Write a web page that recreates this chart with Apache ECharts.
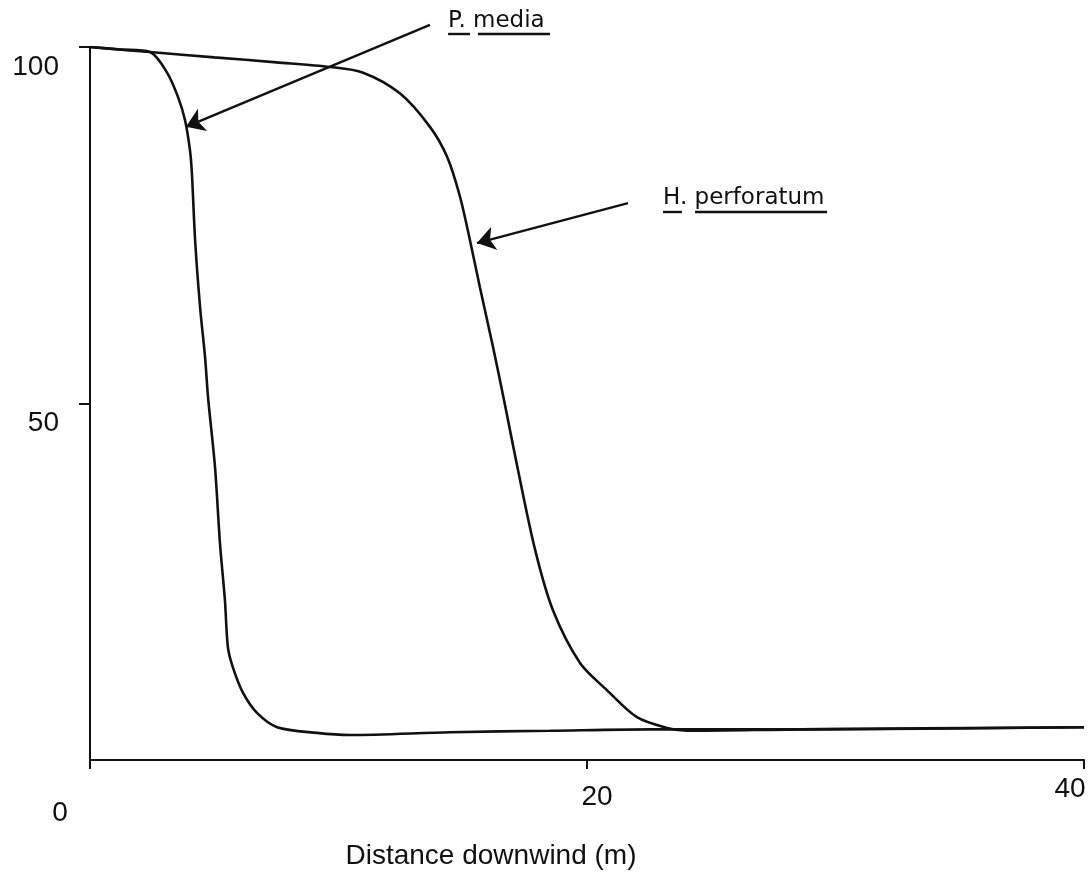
<!DOCTYPE html>
<html>
<head>
<meta charset="utf-8">
<title>Distance downwind</title>
<script src="https://cdn.jsdelivr.net/npm/echarts@6/dist/echarts.min.js"></script>
<style>
  html, body { margin: 0; padding: 0; background: #fff; }
  #chart { width: 1090px; height: 889px; }
</style>
</head>
<body>
<div id="chart"></div>
<script>
// distances (m) and values
var perforatumX = [0, 2.41, 5.0, 7.5, 9.66, 10.99, 12.47, 13.68, 14.37, 14.89, 15.29, 15.69, 16.22, 16.7, 17.18, 17.91, 18.63, 19.72, 20.8, 22.01, 23.22, 24.02, 28.57, 40]
var perforatumY = [100, 99.3, 98.55, 97.85, 97.2, 96.4, 93.5, 88.8, 84.6, 79.0, 72.9, 66.3, 57.9, 49.8, 41.4, 29.5, 21.0, 13.6, 9.8, 6.0, 4.5, 4.1, 4.3, 4.6]
var mediaX = [0, 1.2, 2.41, 3.1, 3.54, 3.82, 4.02, 4.1, 4.23, 4.43, 4.63, 4.75, 5.03, 5.23, 5.43, 5.55, 5.75, 6.16, 6.72, 7.53, 9.13, 10.46, 14.49, 18.51, 22.54, 28.57, 40]
var mediaY = [100, 99.65, 99.3, 96.4, 93.0, 89.8, 85.6, 82.3, 72.9, 63.5, 56.5, 50.9, 41.1, 30.4, 22.4, 15.8, 13.0, 9.4, 6.6, 4.6, 3.8, 3.5, 3.9, 4.1, 4.3, 4.3, 4.6]
var xTicks = [0, 20, 40]
var yTicks = [50, 100]

// annotation arrows and labels, in data units: [tail, tip], label anchor, underline pieces
var mediaArrow = [[13.68, 103.1], [3.86, 88.8]]
var mediaLabel = [14.41, 103.7]
var mediaUnderline = [[[14.41, 101.9], [15.29, 101.9]], [[15.61, 101.9], [18.51, 101.9]]]
var perfArrow = [[21.65, 78.1], [15.57, 72.5]]
var perfLabel = [23.06, 78.8]
var perfUnderline = [[[23.06, 76.9], [23.82, 76.9]], [[24.35, 76.9], [29.66, 76.9]]]

function pairs(xs, ys) {
  return xs.map(function(x, i) { return [x, ys[i]] })
}

var ink = '#111'
var chart = echarts.init(document.getElementById('chart'))

chart.setOption({
  backgroundColor: '#fff',
  animation: false,
  grid: {
    left: 90,
    right: 6,
    top: 47,
    bottom: 129,
    containLabel: false,
    outerBoundsMode: 'none'
  },
  xAxis: {
    type: 'value',
    min: 0,
    max: 40,
    interval: 20,
    name: 'Distance downwind (m)',
    nameLocation: 'middle',
    nameGap: 82,
    nameTextStyle: {
      fontFamily: 'Liberation Sans',
      fontSize: 28,
      color: ink,
      padding: [0, 192, 0, 0]
    },
    axisLine: { lineStyle: { color: ink, width: 2 } },
    axisTick: { length: 9, lineStyle: { color: ink, width: 2 } },
    splitLine: { show: false },
    axisLabel: {
      margin: 13,
      color: ink,
      fontFamily: 'Liberation Sans',
      fontSize: 28,
      formatter: function(v) {
        if (v === xTicks[0]) return '{o|0}'
        if (v === xTicks[1]) return '{t|20}'
        return '{f|40}'
      },
      rich: {
        o: { fontFamily: 'Liberation Sans', fontSize: 28, color: ink, padding: [26, 60, 0, 0] },
        t: { fontFamily: 'Liberation Sans', fontSize: 28, color: ink, padding: [10, 0, 0, 20] },
        f: { fontFamily: 'Liberation Sans', fontSize: 28, color: ink, padding: [2, 28, 0, 0] }
      }
    }
  },
  yAxis: {
    type: 'value',
    min: 0,
    max: 100,
    interval: 50,
    axisLine: { show: true, lineStyle: { color: ink, width: 2 } },
    axisTick: { show: true, length: 11, customValues: yTicks, lineStyle: { color: ink, width: 2 } },
    splitLine: { show: false },
    axisLabel: {
      margin: 31,
      color: ink,
      fontFamily: 'Liberation Sans',
      fontSize: 28,
      lineHeight: 40,
      verticalAlign: 'top',
      formatter: function(v) { return yTicks.indexOf(v) >= 0 ? String(v) : '' }
    }
  },
  series: [
    {
      name: 'H. perforatum',
      type: 'line',
      data: pairs(perforatumX, perforatumY),
      smooth: 0.3,
      showSymbol: false,
      lineStyle: { color: ink, width: 2.6 }
    },
    {
      name: 'P. media',
      type: 'line',
      data: pairs(mediaX, mediaY),
      smooth: 0.3,
      showSymbol: false,
      lineStyle: { color: ink, width: 2.6 }
    }
  ]
})

// markers above the y max get filtered, so place them through the grid's pixel scale
function px(p) {
  var r = chart.convertToPixel({ gridIndex: 0 }, p)
  return { x: r[0], y: r[1] }
}

function annotation(arrow, label, underline, text) {
  var lines = [[px(arrow[0]), Object.assign(px(arrow[1]), { symbol: 'arrow', symbolSize: 18 })]]
  underline.forEach(function(seg) {
    lines.push([px(seg[0]), px(seg[1])])
  })
  return {
    markLine: {
      silent: true,
      symbol: ['none', 'none'],
      lineStyle: { color: ink, width: 2.4, type: 'solid' },
      label: { show: false },
      data: lines
    },
    markPoint: {
      silent: true,
      symbol: 'circle',
      symbolSize: 0,
      label: {
        show: true,
        position: 'right',
        distance: 0,
        color: ink,
        fontFamily: 'DejaVu Sans',
        fontSize: 23,
        formatter: text
      },
      data: [px(label)]
    }
  }
}

chart.setOption({
  series: [
    annotation(perfArrow, perfLabel, perfUnderline, 'H. perforatum'),
    annotation(mediaArrow, mediaLabel, mediaUnderline, 'P. media')
  ]
})
</script>
</body>
</html>
